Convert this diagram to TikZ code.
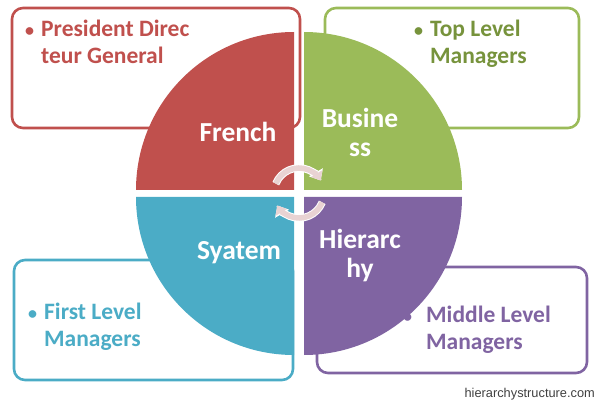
\documentclass[tikz,border=0pt]{standalone}
\usepackage{fontspec}
\setmainfont{Carlito}
\newfontfamily\wmfont{Liberation Sans}
\usetikzlibrary{arrows.meta}
\definecolor{qred}{HTML}{C0504D}
\definecolor{qgreen}{HTML}{9BBB59}
\definecolor{qgreentext}{HTML}{77933C}
\definecolor{qteal}{HTML}{4BACC6}
\definecolor{qpurple}{HTML}{8064A2}
\definecolor{arcfill}{HTML}{E9D3D3}
\tikzset{
  infobox/.style={draw=#1, line width=2.6pt, rounded corners=11pt, fill=white},
  quadfill/.style={fill=#1, draw=none},
  boxtext/.style={text=#1, font=\fontsize{23.5}{26.5}\selectfont\bfseries, align=left, anchor=north west, inner sep=0pt},
  quadlabel/.style={text=white, font=\fontsize{27.5}{29}\selectfont\bfseries, align=center, inner sep=0pt},
  cyclearc/.style={line width=5.5pt, draw=arcfill, -{Triangle[length=8pt,width=13pt]}},
  cycleedge/.style={line width=7.5pt, draw=white, -{Triangle[length=9.5pt,width=15.5pt]}}
}
\newcommand{\bul}[1][16pt]{\makebox[#1][l]{\fontsize{18}{18}\selectfont\textbullet}}
\begin{document}
\begin{tikzpicture}[x=1pt,y=1pt]
\useasboundingbox (0,0) rectangle (597,402);
% boxes
\draw[infobox=qred] (12,274) rectangle (300,394);
\draw[infobox=qgreen] (325,274) rectangle (579,394);
\draw[infobox=qteal] (14,22) rectangle (293,142);
\draw[infobox=qpurple] (317,29) rectangle (587,135);
% box texts
\node[boxtext=qred] (t1) at (25,382) {\bul President Direc\\\hspace{16pt}teur General};
\node[boxtext=qgreentext] (t2) at (414,382) {\bul Top Level\\\hspace{16pt}Managers};
\node[boxtext=qteal] (t3) at (28,99) {\bul First Level\\\hspace{16pt}Managers};
\node[boxtext=qpurple] (t4) at (403,96) {\bul[23pt]Middle Level\\\hspace{23pt}Managers};
% quadrants
\fill[quadfill=qred] (294,212) -- (136,212) arc[start angle=180,end angle=90,radius=158] -- cycle;
\fill[quadfill=qgreen] (304,212) -- (304,370) arc[start angle=90,end angle=0,radius=158] -- cycle;
\fill[quadfill=qteal] (294,205) -- (294,47) arc[start angle=270,end angle=180,radius=158] -- cycle;
\fill[quadfill=qpurple] (304,205) -- (462,205) arc[start angle=0,end angle=-90,radius=158] -- cycle;
% quadrant labels
\node[quadlabel] (q1) at (238,270) {French};
\node[quadlabel] (q2) at (360,270) {Busine\\ss};
\node[quadlabel] (q3) at (239,149) {Syatem};
\node[quadlabel] (q4) at (360,146) {Hierarc\\hy};
% cycle arrows
\coordinate (cc) at (299,209);
\draw[cycleedge] ([shift={(158:25)}]cc) arc[start angle=158,end angle=30,radius=25];
\draw[cyclearc] ([shift={(158:25)}]cc) arc[start angle=158,end angle=30,radius=25];
\draw[cycleedge] ([shift={(-22:25)}]cc) arc[start angle=-22,end angle=-150,radius=25];
\draw[cyclearc] ([shift={(-22:25)}]cc) arc[start angle=-22,end angle=-150,radius=25];
% watermark
\node[anchor=base east, inner sep=0pt, text=black!75, font=\wmfont\fontsize{12.8}{14}\selectfont] (wm) at (595,5) {hierarchystructure.com};
\end{tikzpicture}
\end{document}
